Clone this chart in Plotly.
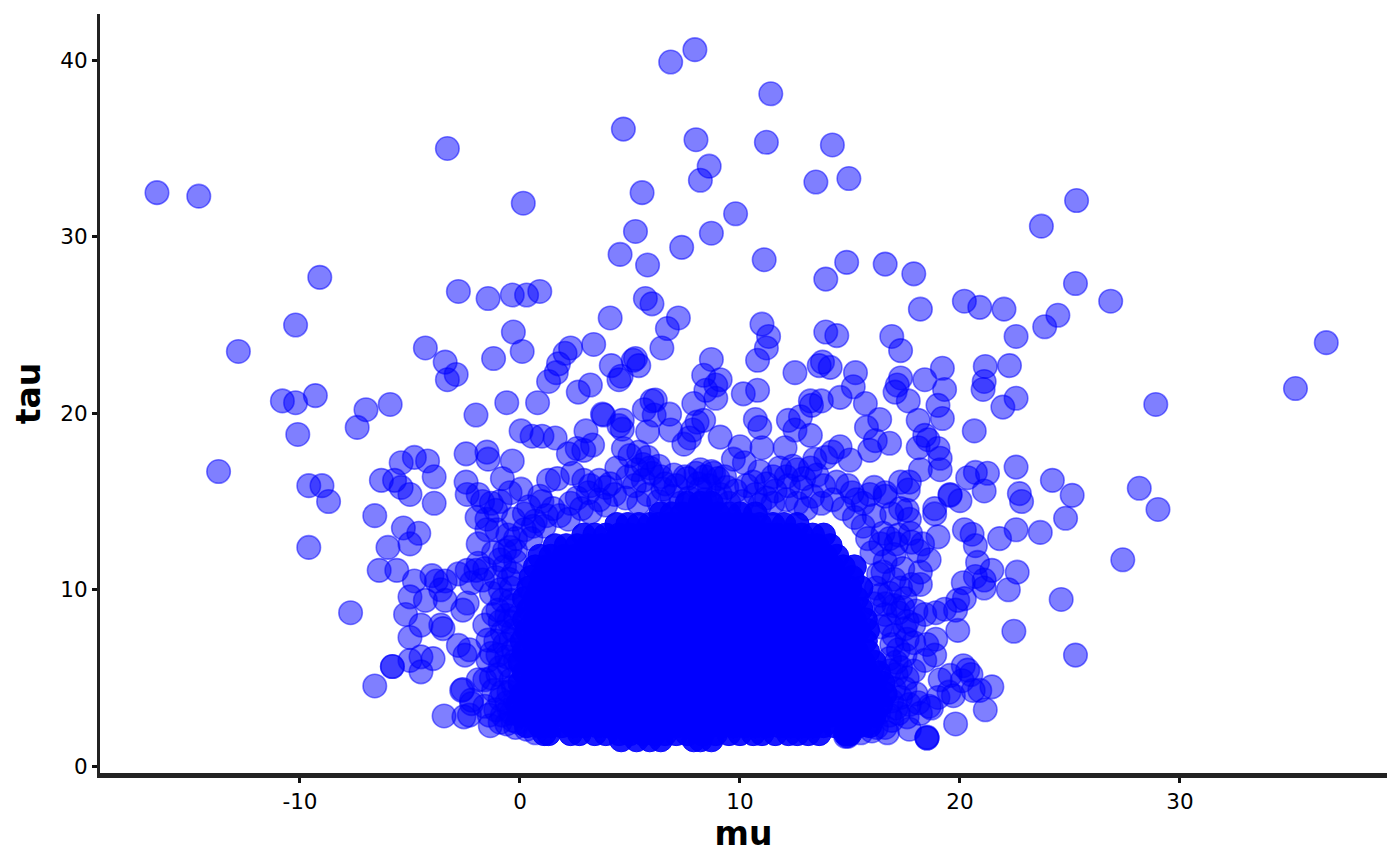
import plotly.graph_objects as go

# Scattered points: (mu, tau)
far_left = [(-16.5,32.5),(-14.6,32.3),(-13.7,16.7),(-12.8,23.5),(-10.8,20.7),(-10.2,25.0),(-10.2,20.6),(-10.1,18.8),(-9.3,21.0),(-9.1,27.7),
(-9.6,15.9),(-9.0,15.9),(-8.7,15.0),(-9.6,12.4),(-7.7,8.7),(-7.4,19.2),(-7.0,20.2),(-5.9,20.5),(-6.6,14.2),(-6.3,16.2),(-6.4,11.1),(-6.0,12.4),
(-6.6,4.55),(-5.8,5.65),(-5.8,5.65),(-5.6,11.1),(-5.7,16.2),(-5.4,17.2),(-5.4,15.8),(-5.0,15.4),(-4.8,17.5),(-4.2,17.3),(-5.3,13.5),(-5.0,12.6),
(-4.6,13.2),(-3.9,16.4),(-3.9,14.9),(-4.3,23.7),(-3.4,22.9),(-3.3,21.9),(-2.9,22.2),(-3.3,35.0),(-2.8,26.9),(-2.45,17.7),(-2.0,19.9),(-1.45,26.5),
(-1.2,23.1),(-0.35,26.7),(-0.3,24.6),(-0.6,20.6),(-1.5,17.8),(-1.45,17.4),(-0.35,17.3),(-0.8,16.3),(-2.45,16.1),(-2.4,15.4),(-1.9,15.4),(-0.45,15.5),
(-1.3,14.9),(-1.95,14.1),(-1.5,14.0),(-0.3,14.0),(-0.45,12.4),(-0.7,12.2),(-1.5,13.4),(-1.05,13.4),(-0.55,13.1),(-1.1,14.5),(-1.7,15.0),(-0.9,15.0)]

low_left = [(-4.0,10.8),(-3.4,10.5),(-3.8,10.5),(-2.8,10.9),(-2.4,11.1),(-1.9,11.5),(-2.0,11.1),(-1.7,10.55),(-2.2,10.4),(-4.8,10.5),(-5.0,9.6),(-4.3,9.4),
(-5.2,8.6),(-3.6,10.0),(-3.4,9.4),(-2.6,8.85),(-2.4,9.25),(-3.5,7.8),(-3.6,8.0),(-4.5,8.0),(-5.0,7.3),(-3.95,6.1),(-2.8,6.85),(-2.5,6.3),(-2.3,6.6),
(-5.0,6.0),(-4.5,6.2),(-4.5,5.35),(-3.45,2.85),(-2.55,2.8),(-2.3,2.9),(-2.2,3.75),(-2.2,3.55),(-2.65,4.3),(-2.6,4.35),(-1.9,4.9),(-1.45,6.0),(-1.6,4.9),
(-1.35,2.3),(-0.9,2.5),(-1.0,8.85),(-0.6,8.55),(-1.45,7.15),(-1.6,8.0),(-1.3,6.4),(-0.8,7.6),(-0.6,6.2),(-1.0,5.2),(-1.6,3.4),(-1.1,3.2),(-0.6,2.4),(-0.3,2.6),
(-0.9,10.0),(-0.5,10.6),(-1.3,9.8),(-0.4,9.4),(-0.8,4.2),(-0.5,3.2),(-0.7,11.3)]

top_middle = [(0.1,23.5),(0.3,26.7),(0.9,26.9),(0.15,31.9),(0.8,20.6),(0.05,19.0),(0.55,18.7),(0.05,15.7),(0.7,13.9),(1.3,21.8),(1.65,22.3),(1.75,22.8),
(2.05,23.4),(2.3,23.7),(2.65,21.2),(3.2,21.6),(3.35,23.9),(4.1,25.4),(4.15,22.7),(4.6,22.1),(4.5,21.9),(5.15,23.0),(5.25,23.1),(5.4,22.7),(4.55,29.0),
(5.25,30.3),(5.55,32.5),(4.7,36.1),(5.8,28.4),(5.7,26.5),(6.0,26.2),(6.7,24.8),(6.45,23.7),(7.2,25.4),(6.85,39.9),(7.95,40.6),(8.0,35.5),(8.2,33.2),
(8.6,34.0),(7.35,29.4),(8.7,30.2),(9.8,31.3),(11.4,38.1),(11.2,35.35),(11.1,28.7),(13.45,33.1),(14.2,35.2),(14.95,33.3),(14.85,28.55),(13.9,27.6),
(11.3,24.35),(11.2,23.7),(11.0,25.05),(10.8,23.0),(10.8,21.3),(10.15,21.1),(8.7,23.05),(8.35,22.15),(9.1,21.9),(8.9,21.6),(8.45,21.3),(8.9,20.85),(7.9,20.55),
(6.15,20.75),(6.0,20.7),(6.8,19.95),(5.65,20.2),(6.1,19.9),(3.75,19.95),(3.8,19.9),(4.65,19.6),(4.65,19.1),(5.8,18.95),(6.85,19.05),(7.85,19.05),(8.35,19.6),
(8.05,19.5),(9.1,18.65),(7.45,18.25),(7.7,18.6),(10.7,19.65),(10.9,19.2),(10.0,18.1),(11.0,18.05),(12.05,18.05),(12.2,19.6),(12.75,19.8),(13.25,20.45),
(13.2,20.7),(13.7,20.7),(14.55,20.9),(13.2,18.75),(12.5,19.05),(14.2,17.8),(14.55,18.1),(13.9,17.5),(13.4,17.4),(15.0,17.35),(16.8,18.3),(16.15,18.45),(15.9,17.9),
(14.4,24.4),(13.9,24.6),(14.1,22.6),(13.75,22.9),(13.6,22.7),(12.5,22.3),(15.25,22.3),(15.15,21.5),(15.7,20.55),(16.35,19.65),(15.75,19.2),(1.0,18.7),(1.6,18.6),
(1.3,16.2),(1.7,16.3),(2.2,17.7),(2.6,18.0),(2.9,17.9),(3.0,19.0),(3.3,18.2),(2.3,14.9),(2.6,15.2),(3.2,15.9),(3.6,16.2),(4.1,16.0),(4.7,18.0),(5.0,17.6),
(5.4,17.8),(5.8,17.5),(6.3,17.0),(7.0,16.5),(7.5,16.4),(8.2,16.8),(8.8,16.6),(9.3,16.4),(10.2,17.2),(10.9,16.7),(11.2,16.0),(12.1,16.4),(12.6,16.8),(13.2,16.9),
(13.8,15.9),(14.4,16.1),(15.1,15.5),(15.6,14.9),(16.1,14.2),(16.6,15.3),(4.5,19.3),(6.5,15.7),(9.7,17.4),(0.9,15.3),(1.5,14.6),(0.2,14.3),(0.5,12.9)]

right_side = [(16.6,28.45),(17.9,27.9),(18.2,25.9),(20.2,26.35),(20.9,26.0),(22.0,25.9),(22.55,24.35),(23.85,24.9),(24.45,25.55),(23.7,30.6),(25.3,32.05),(25.25,27.35),
(26.85,26.35),(36.65,24.0),(35.25,21.4),(28.9,20.5),(28.15,15.75),(29.0,14.55),(27.4,11.7),(25.1,15.35),(24.2,16.2),(24.8,14.05),(23.65,13.25),(22.55,16.95),
(22.7,15.45),(22.8,15.0),(22.55,13.4),(22.6,11.0),(24.6,9.45),(22.45,7.65),(25.25,6.3),(22.2,10.0),(21.15,22.65),(22.25,22.7),(21.1,21.8),(21.05,21.35),
(22.55,20.85),(21.95,20.35),(20.65,19.0),(19.2,22.55),(19.3,21.35),(19.0,20.45),(19.2,19.7),(18.4,21.9),(17.3,22.0),(17.15,21.6),(16.9,24.35),(17.3,23.55),
(17.05,21.2),(17.65,20.7),(18.1,19.6),(18.4,18.75),(18.55,18.5),(19.0,18.0),(19.1,17.45),(19.1,16.8),(18.1,18.05),(17.7,16.1),(17.3,16.1),(17.65,15.65),
(16.6,15.5),(18.2,16.8),(19.55,15.35),(19.55,15.4),(20.0,15.05),(20.35,16.35),(20.7,16.65),(21.25,16.6),(21.1,15.6),(18.85,14.6),(18.85,14.3),(17.6,14.5),
(17.3,14.6),(17.7,14.0),(17.2,13.1),(17.75,13.2),(19.0,13.0),(20.2,13.4),(20.55,13.15),(20.7,12.5),(21.8,12.9),(20.8,11.55),(21.45,11.1),(20.7,10.75),
(21.1,10.1),(21.1,10.55),(20.15,10.4),(19.9,9.4),(20.2,9.5),(19.8,8.85),(19.9,7.7),(20.15,5.7),(20.35,5.45),(20.1,4.85),(20.6,4.3),(20.9,4.3),(21.45,4.5),
(21.15,3.2),(19.8,2.4),(18.5,1.6),(18.5,1.6),(18.5,1.65),(18.7,3.3),(18.6,3.4),(19.55,5.15),(19.1,4.9),(18.85,6.3),(18.5,6.9),(18.9,7.2),(18.0,8.8),(18.4,8.6),
(18.9,8.7),(19.3,8.9),(17.6,8.2),(17.2,8.7),(17.8,10.3),(18.2,11.0),(18.2,10.3),(17.4,11.2),(18.1,12.2),(18.6,11.7),(18.3,12.6),(17.8,12.7),(17.0,12.0),(16.6,11.6),
(17.5,9.5),(16.8,9.8),(16.5,13.2),(16.9,14.3),(17.5,6.3),(17.9,5.4),(17.5,4.4),(18.0,4.1),(17.2,3.0),(17.7,2.1),(16.9,2.6),(18.2,3.0),(18.4,6.0),(17.9,7.0),(16.8,5.4),
(19.0,3.9),(19.5,4.2),(16.3,3.0),(16.6,2.2),(16.2,2.2),(17.0,7.4),(20.5,5.2),(19.7,4.0)]

# Dense ring round the core, where circles still show through
dome_band = [(1.1,13.6),(1.8,14.2),(2.2,14.0),(2.8,14.6),(3.2,14.4),(3.6,15.1),(3.9,14.8),(4.3,15.4),(4.8,15.2),(5.2,15.9),(5.6,16.2),(6.0,16.6),(6.6,16.0),(7.1,15.9),
(7.6,16.3),(8.0,16.6),(8.4,16.4),(8.7,16.7),(9.0,16.3),(9.4,15.8),(9.8,15.6),(10.3,15.9),(10.7,15.4),(11.2,15.2),(11.6,15.6),(12.2,15.9),(12.8,15.8),(13.3,15.3),
(13.7,14.9),(14.2,15.1),(14.7,14.6),(15.2,14.1),(15.6,13.6),(15.8,12.9),(16.0,12.1),(16.3,10.9),(16.2,10.1),(16.1,9.2),(16.6,8.6),(16.4,7.9),(16.9,6.9),(16.8,6.1),
(17.1,5.2),(17.0,4.4),(16.9,3.7),(17.1,3.3),(16.8,2.9),(8.2,15.7),(8.6,15.9),(9.1,15.4),(7.7,15.2),(8.4,15.1),(5.4,14.9),(5.8,15.4),(6.3,15.0),(6.9,15.3),(7.3,14.9),
(8.1,16.0),(8.9,15.2),(9.5,14.9),(10.1,15.0),(10.9,14.8),(11.5,14.9),(12.1,15.1),(12.6,14.9),(13.0,14.6),(-0.2,11.6),(-0.3,10.9),(-0.4,10.1),(-0.3,9.1),(-0.5,8.2),
(-0.4,7.2),(-0.3,6.6),(-0.5,5.7),(-0.4,4.9),(-0.5,4.2),(-0.6,3.6),(-0.4,3.0),(-0.1,2.5),(0.3,2.1),(0.7,1.9),(-0.2,12.9),(0.2,13.4),(0.6,13.6),(0.4,14.7),(1.0,15.0),(1.2,14.2),
(2.4,16.6),(2.9,16.2),(3.1,15.5),(3.9,15.8),(4.4,16.9),(4.9,16.4),(5.3,16.8),(5.6,17.1),(5.9,16.9),(6.4,16.4),(10.6,16.1),(11.5,16.4),(11.8,16.9),(12.4,17.0),(12.9,16.3),
(13.5,16.5),(14.9,15.9),(15.3,15.1),(15.9,15.4),(16.1,15.8)]

side_fill = [(-1.9,12.6),(-1.2,12.1),(-0.9,11.7),(-1.6,11.2),(-1.1,10.7),(-0.2,12.2),(-0.8,9.4),(-1.2,8.6),(-0.2,8.4),(-0.9,8.2),(-1.1,7.1),(-0.3,7.7),(-0.7,6.9),(-1.0,6.3),
(-0.2,6.0),(-0.9,5.6),(-1.3,5.0),(-0.3,4.5),(-1.2,4.3),(-0.9,3.8),(-0.2,3.7),(-1.4,2.9),(-0.8,2.9),(-0.2,2.2),(16.4,12.6),(16.8,12.9),(17.1,12.6),(16.5,11.0),(17.0,10.6),
(17.3,10.1),(16.4,9.7),(17.0,9.1),(16.6,9.2),(17.4,9.0),(17.5,7.8),(16.8,8.0),(17.9,8.0),(17.2,6.6),(17.6,7.2),(17.1,5.9),(17.6,5.0),(17.3,5.6),(17.7,3.5),(17.3,3.9),(17.6,2.8),
(18.1,3.6),(16.7,1.9),(16.0,2.0),(15.5,1.9),(15.8,2.4),(14.9,1.7),(14.9,1.75),(14.8,1.7)]

# Dense core, row by row: a tau level and the mu values on that level
core_tau_levels = [1.5,1.85,2.3,2.9,3.5,4.1,4.7,5.3,5.9,6.5,7.1,7.7,8.3,8.9,9.5,10.1,10.7,11.3,11.9,12.5,13.1,13.7,14.3,14.9]
core_mu_rows = [
[4.6,5.3,5.9,6.4,7.9,8.2,8.7],
[1.1,1.3,2.3,2.7,3.4,3.9,4.5,5.0,5.6,6.1,6.6,7.1,7.6,8.3,8.9,9.5,10.0,10.6,11.0,11.6,12.2,12.6,13.1,13.6,14.8,14.9,15.0],
[0.3,0.9,1.4,1.9,2.4,2.9,3.5,4.0,4.5,5.0,5.5,6.1,6.6,7.1,7.6,8.1,8.6,9.2,9.7,10.2,10.7,11.2,11.8,12.3,12.8,13.3,13.8,14.3,14.9,15.4,15.9],
[0.0,0.5,1.1,1.6,2.1,2.6,3.1,3.7,4.2,4.7,5.2,5.8,6.3,6.8,7.3,7.8,8.4,8.9,9.4,9.9,10.4,11.0,11.5,12.0,12.5,13.0,13.6,14.1,14.6,15.1,15.6,16.1],
[-0.1,0.4,0.9,1.4,2.0,2.5,3.0,3.5,4.0,4.6,5.1,5.6,6.1,6.6,7.2,7.7,8.2,8.7,9.2,9.8,10.3,10.8,11.3,11.8,12.4,12.9,13.4,13.9,14.4,15.0,15.5,16.0,16.4],
[0.1,0.6,1.2,1.7,2.2,2.7,3.2,3.8,4.3,4.8,5.3,5.8,6.4,6.9,7.4,7.9,8.4,9.0,9.5,10.0,10.5,11.0,11.6,12.1,12.6,13.1,13.6,14.2,14.7,15.2,15.7,16.2,16.6],
[0.0,0.5,1.0,1.5,2.1,2.6,3.1,3.6,4.1,4.7,5.2,5.7,6.2,6.7,7.3,7.8,8.3,8.8,9.3,9.9,10.4,10.9,11.4,11.9,12.5,13.0,13.5,14.0,14.5,15.1,15.6,16.1,16.5],
[0.2,0.7,1.2,1.8,2.3,2.8,3.3,3.8,4.4,4.9,5.4,5.9,6.4,7.0,7.5,8.0,8.5,9.0,9.6,10.1,10.6,11.1,11.6,12.2,12.7,13.2,13.7,14.2,14.8,15.3,15.8,16.3],
[0.0,0.5,1.0,1.5,2.0,2.6,3.1,3.6,4.1,4.6,5.2,5.7,6.2,6.7,7.2,7.8,8.3,8.8,9.3,9.8,10.4,10.9,11.4,11.9,12.4,13.0,13.5,14.0,14.5,15.0,15.6,16.1],
[0.2,0.7,1.3,1.8,2.3,2.8,3.3,3.9,4.4,4.9,5.4,5.9,6.5,7.0,7.5,8.0,8.5,9.1,9.6,10.1,10.6,11.1,11.7,12.2,12.7,13.2,13.7,14.3,14.8,15.3,15.8],
[0.1,0.6,1.1,1.6,2.1,2.7,3.2,3.7,4.2,4.7,5.3,5.8,6.3,6.8,7.3,7.9,8.4,8.9,9.4,9.9,10.5,11.0,11.5,12.0,12.5,13.1,13.6,14.1,14.6,15.1,15.7],
[0.3,0.8,1.3,1.9,2.4,2.9,3.4,3.9,4.5,5.0,5.5,6.0,6.5,7.1,7.6,8.1,8.6,9.1,9.7,10.2,10.7,11.2,11.7,12.3,12.8,13.3,13.8,14.3,14.9,15.4,15.8],
[0.2,0.7,1.2,1.7,2.2,2.8,3.3,3.8,4.3,4.8,5.4,5.9,6.4,6.9,7.4,8.0,8.5,9.0,9.5,10.0,10.6,11.1,11.6,12.1,12.6,13.2,13.7,14.2,14.7,15.2,15.7],
[0.4,0.9,1.4,2.0,2.5,3.0,3.5,4.0,4.6,5.1,5.6,6.1,6.6,7.2,7.7,8.2,8.7,9.2,9.8,10.3,10.8,11.3,11.8,12.4,12.9,13.4,13.9,14.4,15.0,15.5],
[0.2,0.7,1.2,1.8,2.3,2.8,3.3,3.8,4.4,4.9,5.4,5.9,6.4,7.0,7.5,8.0,8.5,9.0,9.6,10.1,10.6,11.1,11.6,12.2,12.7,13.2,13.7,14.2,14.8,15.3],
[0.4,0.9,1.5,2.0,2.5,3.0,3.5,4.1,4.6,5.1,5.6,6.1,6.7,7.2,7.7,8.2,8.7,9.3,9.8,10.3,10.8,11.3,11.9,12.4,12.9,13.4,13.9,14.5,15.0,15.5],
[0.5,1.0,1.5,2.1,2.6,3.1,3.6,4.1,4.7,5.2,5.7,6.2,6.7,7.3,7.8,8.3,8.8,9.3,9.9,10.4,10.9,11.4,11.9,12.5,13.0,13.5,14.0,14.5,15.1],
[0.7,1.2,1.7,2.3,2.8,3.3,3.8,4.3,4.9,5.4,5.9,6.4,6.9,7.5,8.0,8.5,9.0,9.5,10.1,10.6,11.1,11.6,12.1,12.7,13.2,13.7,14.2,14.7,15.2],
[0.9,1.4,2.0,2.5,3.0,3.5,4.0,4.6,5.1,5.6,6.1,6.6,7.2,7.7,8.2,8.7,9.2,9.8,10.3,10.8,11.3,11.8,12.4,12.9,13.4,13.9,14.4],
[1.6,2.1,2.6,3.1,3.7,4.2,4.7,5.2,5.7,6.3,6.8,7.3,7.8,8.3,8.9,9.4,9.9,10.4,10.9,11.5,12.0,12.5,13.0,13.5,14.1],
[2.9,3.4,3.9,4.5,5.0,5.5,6.0,6.5,7.1,7.6,8.1,8.6,9.1,9.7,10.2,10.7,11.2,11.7,12.3,12.8,13.3,13.8],
[4.4,4.9,5.4,5.9,6.3,6.8,7.3,7.8,8.3,8.9,9.4,9.9,10.4,10.9,11.5,12.0,12.6],
[6.4,6.9,7.4,8.0,8.5,9.0,9.5,10.0,10.7],
[7.6,8.2,8.7],
]

core_mu, core_tau = [], []
for level, row in zip(core_tau_levels, core_mu_rows):
    core_mu += row
    core_tau += [level] * len(row)
scattered = far_left + low_left + top_middle + right_side + dome_band + side_fill
mu = [p[0] for p in scattered]
tau = [p[1] for p in scattered]

x_ticks = [-10, 0, 10, 20, 30]
x_labels = ["-10", "0", "10", "20", "30"]
y_ticks = [0, 10, 20, 30, 40]
y_labels = ["0", "10", "20", "30", "40"]

fig = go.Figure()
fig.add_trace(go.Scatter(x=mu, y=tau, mode="markers", hoverinfo="skip",
    marker=dict(size=23.5, color="rgba(0,0,255,0.5)", line=dict(color="rgba(0,0,255,0.5)", width=1.6))))
fig.add_trace(go.Scatter(x=core_mu, y=core_tau, mode="markers", hoverinfo="skip",
    marker=dict(size=24, color="rgba(0,0,255,0.9)", line=dict(color="rgba(0,0,255,0.9)", width=1))))
axis_font = dict(family="DejaVu Sans", size=21.5, color="black")
title_font = dict(family="DejaVu Sans", size=33, color="black", weight="bold")
fig.update_layout(
    width=1400, height=866, autosize=False,
    margin=dict(l=99.5, r=13, t=14, b=93),
    plot_bgcolor="white", paper_bgcolor="white", showlegend=False,
    xaxis=dict(range=[-19.09, 39.41], tickvals=x_ticks, ticktext=x_labels, ticks="outside", ticklen=5, tickwidth=2.5, tickcolor="#111",
               tickfont=axis_font, showgrid=False, zeroline=False, showline=True, linecolor="#222", linewidth=5,
               title=dict(text="mu", font=title_font, standoff=4)),
    yaxis=dict(range=[-0.38, 42.62], tickvals=y_ticks, ticktext=y_labels, ticks="outside", ticklen=5, tickwidth=2.5, tickcolor="#111",
               tickfont=axis_font, showgrid=False, zeroline=False, showline=True, linecolor="#222", linewidth=3,
               title=dict(text="tau", font=title_font, standoff=10)),
)
fig.write_html("out.html", post_script="document.body.style.margin='0';", config={"displayModeBar": False})
